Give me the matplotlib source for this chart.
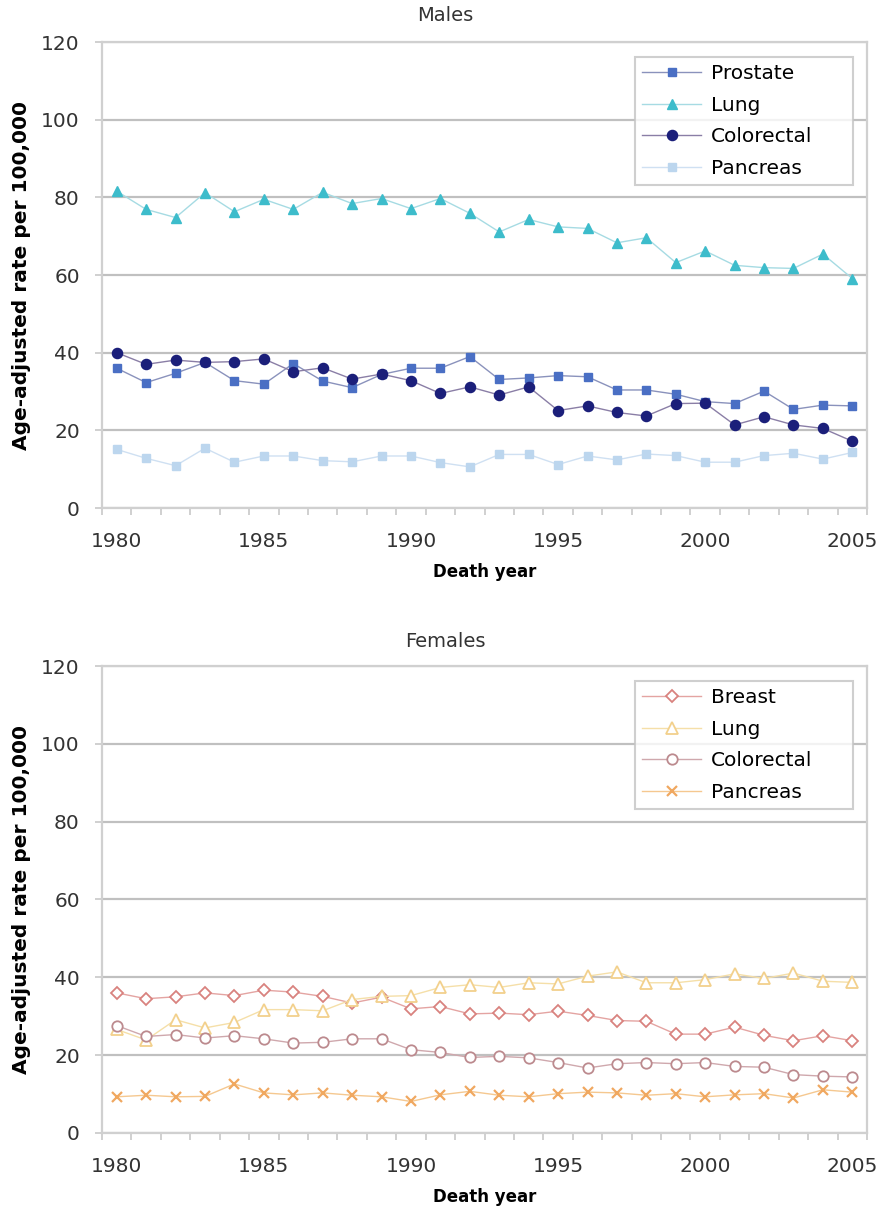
import numpy as np
import matplotlib
matplotlib.use('Agg')
import matplotlib.pyplot as plt

years = np.arange(1980, 2006)
year_labels = ['1980', '1985', '1990', '1995', '2000', '2005']

# Males, age-adjusted rate per 100,000
m_prostate = [36.0, 32.3, 34.7, 37.5, 32.8, 31.9, 37.2, 32.7, 31.0, 34.4, 36.0, 36.0, 39.0,
              33.1, 33.5, 34.1, 33.8, 30.4, 30.4, 29.3, 27.4, 26.9, 30.1, 25.4, 26.5, 26.3]
m_lung = [81.6, 76.9, 74.8, 81.2, 76.3, 79.5, 76.9, 81.3, 78.4, 79.7, 77.1, 79.7, 75.9,
          71.1, 74.3, 72.4, 72.0, 68.3, 69.6, 63.2, 66.2, 62.5, 61.9, 61.7, 65.4, 59.1]
m_colorectal = [40.0, 37.0, 38.1, 37.5, 37.7, 38.4, 35.1, 36.1, 33.2, 34.5, 32.8, 29.5, 31.2,
                29.1, 31.2, 25.1, 26.3, 24.6, 23.7, 26.9, 27.0, 21.4, 23.5, 21.4, 20.5, 17.2]
m_pancreas = [15.1, 12.8, 10.9, 15.4, 11.8, 13.4, 13.4, 12.2, 11.9, 13.4, 13.4, 11.7, 10.6,
              13.8, 13.8, 11.2, 13.4, 12.4, 13.9, 13.5, 11.8, 11.8, 13.5, 14.1, 12.6, 14.3]

# Females
f_breast = [36.0, 34.5, 35.0, 36.0, 35.3, 36.7, 36.2, 35.1, 33.4, 34.9, 31.9, 32.5, 30.6,
            30.8, 30.4, 31.3, 30.2, 28.9, 28.7, 25.4, 25.4, 27.2, 25.1, 23.7, 25.0, 23.7]
f_lung = [26.6, 23.9, 29.1, 27.0, 28.4, 31.7, 31.7, 31.4, 34.3, 35.1, 35.3, 37.4, 38.1,
          37.4, 38.6, 38.3, 40.3, 41.4, 38.6, 38.6, 39.4, 40.9, 39.7, 41.1, 39.0, 38.7]
f_colorectal = [27.6, 24.8, 25.3, 24.4, 25.0, 24.2, 23.1, 23.3, 24.2, 24.2, 21.4, 20.7, 19.4,
                19.7, 19.3, 18.1, 16.7, 17.8, 18.1, 17.8, 18.1, 17.1, 16.9, 15.0, 14.6, 14.4]
f_pancreas = [9.3, 9.7, 9.3, 9.4, 12.6, 10.3, 9.8, 10.3, 9.7, 9.3, 8.1, 9.8, 10.7,
              9.7, 9.3, 10.1, 10.5, 10.3, 9.7, 10.1, 9.3, 9.8, 10.1, 9.0, 11.1, 10.5]

plt.rcParams['font.family'] = 'DejaVu Sans'
plt.rcParams['font.size'] = 14.5

fig = plt.figure(figsize=(8.91, 12.18), dpi=100)
ax1 = fig.add_axes([0.1145, 0.5829, 0.8586, 0.3826])
ax2 = fig.add_axes([0.1145, 0.0698, 0.8586, 0.3834])

def style_axes(ax):
    ax.set_xlim(1979.5, 2005.5)
    ax.set_ylim(0, 120)
    ax.set_yticks(np.arange(0, 121, 20))
    ax.yaxis.grid(True, color='#c0c0c0', linewidth=1.6)
    ax.set_axisbelow(True)
    ax.set_xticks([int(s) for s in year_labels])
    ax.set_xticklabels(year_labels)
    ax.set_xticks(np.arange(1979.5, 2006, 1), minor=True)
    ax.tick_params(axis='x', which='major', length=0, pad=17, colors='#333333')
    ax.tick_params(axis='x', which='minor', length=5, width=1.2, color='#c8c8c8')
    ax.tick_params(axis='y', length=5, width=1.2, color='#c8c8c8', labelcolor='#333333', pad=11)
    for s in ax.spines.values():
        s.set_color('#d0d0d0')
        s.set_linewidth(1.6)
    ax.set_ylabel('Age-adjusted rate per 100,000', fontweight='bold', fontsize=14.5, labelpad=7)
    ax.set_xlabel('Death year', fontweight='bold', fontsize=12, labelpad=9)

def add_legend(ax):
    # fixed-width box, Excel style: extra room right of the labels
    leg = ax.legend(loc='upper left', bbox_to_anchor=(0.697, 0.968, 0.285, 0.0), mode='expand',
                    frameon=True, fancybox=False, edgecolor='#c4c4c4', fontsize=14.5,
                    handlelength=2.9, labelspacing=0.62, borderpad=0.36, handletextpad=0.5,
                    borderaxespad=0)
    leg.get_frame().set_linewidth(1.5)

# Males
ax1.plot(years, m_prostate, color='#8a92bc', lw=1, marker='s', ms=5.5,
         mfc='#4a6fc4', mec='#4a6fc4', label='Prostate')
ax1.plot(years, m_lung, color='#a6dbe3', lw=1, marker='^', ms=7,
         mfc='#3dbccb', mec='#3dbccb', label='Lung')
ax1.plot(years, m_colorectal, color='#8a7ea6', lw=1, marker='o', ms=7.3,
         mfc='#1b1f7a', mec='#1b1f7a', label='Colorectal')
ax1.plot(years, m_pancreas, color='#cfe0f2', lw=1, marker='s', ms=5.5,
         mfc='#bcd6ee', mec='#bcd6ee', label='Pancreas')
style_axes(ax1)
add_legend(ax1)
fig.text(0.5, 0.987, 'Males', ha='center', va='center', fontsize=14, color='#333333')

# Females
ax2.plot(years, f_breast, color='#e4a4a2', lw=1, marker='D', ms=6, mfc='white',
         mec='#d9827f', mew=1.3, label='Breast')
ax2.plot(years, f_lung, color='#f5dfa8', lw=1, marker='^', ms=8, mfc='white',
         mec='#f2d08c', mew=1.3, label='Lung')
ax2.plot(years, f_colorectal, color='#cfa8ad', lw=1, marker='o', ms=7.5, mfc='white',
         mec='#bc8a8e', mew=1.3, label='Colorectal')
ax2.plot(years, f_pancreas, color='#f5c890', lw=1, marker='x', ms=7,
         mec='#f0a860', mew=1.6, label='Pancreas')
style_axes(ax2)
add_legend(ax2)
fig.text(0.5, 0.473, 'Females', ha='center', va='center', fontsize=14, color='#333333')

fig.savefig('out.png', dpi=100)
